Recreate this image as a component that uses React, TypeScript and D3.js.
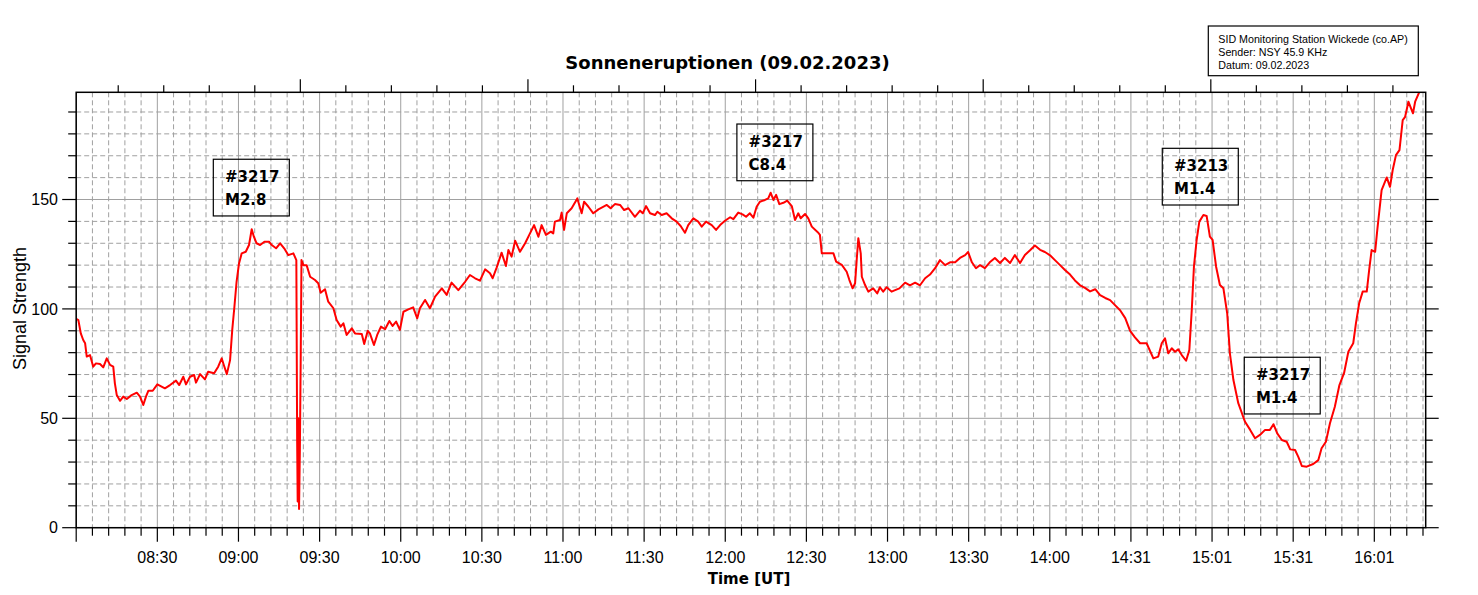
import * as d3 from "d3";

// SID recording 09.02.2023, time as minutes after 08:00 UT
const tMin = [
  0.0, 0.8, 1.7, 2.6, 3.3, 3.9, 5.1, 6.3, 7.3, 8.8, 10.0, 11.3, 12.5, 13.7, 14.3, 15.0, 16.2, 17.4, 18.7, 20.5,
  22.4, 23.6, 24.8, 25.8, 26.7, 28.3, 30.0, 32.8, 34.7, 36.9, 38.1, 39.6, 40.6, 42.1, 43.6, 44.3, 45.8, 47.6, 48.8, 51.0,
  52.5, 53.8, 54.7, 55.7, 56.9, 57.7, 58.5, 59.3, 60.2, 61.2, 62.7, 63.9, 64.9, 65.7, 66.7, 68.0, 69.6, 71.3, 72.3, 73.9,
  75.4, 76.9, 78.4, 80.3, 81.4, 81.7, 81.9, 82.1, 82.4, 82.7, 83.0, 83.3, 84.0, 85.2, 86.5, 88.3, 89.5, 90.4, 92.0, 93.2,
  95.1, 96.3, 97.8, 98.8, 100.0, 101.9, 103.1, 105.6, 106.5, 107.8, 108.6, 110.1, 111.3, 112.7, 114.2, 115.8, 117.0, 118.3, 119.7, 121.0,
  122.8, 124.6, 126.1, 127.1, 129.0, 130.8, 132.7, 135.2, 137.0, 138.8, 141.3, 143.8, 145.6, 147.5, 149.3, 151.2, 153.0, 154.0, 155.5, 157.3,
  158.9, 159.8, 161.0, 162.3, 164.1, 166.0, 167.8, 169.3, 170.9, 172.1, 173.7, 175.5, 176.4, 177.0, 178.9, 179.5, 180.4, 181.4, 183.2, 185.3,
  186.9, 187.8, 189.4, 191.2, 193.1, 196.2, 197.6, 199.2, 201.1, 202.6, 204.2, 206.6, 208.5, 209.5, 210.7, 212.2, 214.0, 214.9, 216.5, 218.3,
  220.2, 222.0, 223.5, 225.1, 226.3, 228.2, 230.0, 231.3, 232.9, 235.0, 236.6, 238.1, 239.9, 241.8, 243.0, 244.8, 246.4, 247.7, 249.1, 250.4,
  251.6, 252.8, 254.7, 255.9, 256.8, 257.8, 258.8, 260.0, 261.5, 262.9, 264.6, 265.8, 267.0, 267.9, 269.5, 270.7, 272.0, 274.4, 275.0, 275.7,
  276.9, 280.0, 281.0, 283.1, 284.9, 285.9, 287.1, 288.0, 288.6, 289.2, 290.1, 290.5, 291.7, 292.9, 294.7, 296.2, 297.2, 298.4, 299.7, 301.5,
  302.8, 304.4, 306.5, 308.3, 310.2, 312.0, 313.9, 315.7, 317.6, 319.4, 321.3, 323.1, 325.0, 326.8, 328.7, 329.8, 331.2, 332.7, 334.2, 336.0,
  337.8, 339.7, 341.6, 343.4, 345.3, 347.1, 349.0, 350.8, 352.7, 354.5, 356.4, 358.2, 360.1, 361.9, 363.8, 365.6, 367.5, 369.3, 371.2, 373.0,
  374.9, 376.8, 378.6, 380.5, 382.3, 384.2, 386.0, 387.9, 389.7, 391.5, 393.4, 395.8, 398.3, 400.1, 401.4, 402.6, 403.8, 405.1, 406.3, 407.5,
  408.8, 410.4, 411.6, 412.5, 413.3, 414.3, 415.3, 416.8, 418.0, 419.2, 420.2, 421.5, 422.9, 424.2, 425.6, 426.6, 427.9, 429.7, 432.2, 434.1,
  435.9, 437.7, 439.6, 441.4, 442.7, 444.1, 445.8, 447.6, 448.9, 450.7, 451.9, 453.2, 455.0, 457.4, 459.3, 460.5, 462.1, 463.6, 465.4, 467.1,
  468.8, 470.4, 472.2, 473.2, 474.4, 475.7, 477.2, 478.1, 479.0, 480.3, 481.1, 482.7, 484.6, 485.8, 486.8, 488.0, 489.3, 490.5, 491.4, 492.6,
  494.3, 495.1, 496.7,
];

const signal = [
  95.5, 94.9, 88.8, 85.8, 84.3, 78.2, 78.9, 73.6, 75.1, 74.8, 73.3, 77.4, 74.4, 73.6, 66, 60.6, 58, 59.9, 58.8, 60.6,
  61.7, 59.9, 56.1, 59.9, 62.6, 62.6, 65.5, 63.7, 65.2, 67.2, 65.2, 69, 65.5, 69, 69.8, 66.3, 70.2, 67.8, 71.3, 70.6,
  73.6, 77.4, 73.9, 70.2, 76.6, 90.4, 101, 112.4, 120.8, 125.4, 126.1, 129.2, 136.4, 133, 130, 129.2, 130.7, 130.7, 129.2, 127.7,
  130, 127.7, 124.6, 125.4, 122.3, 40, 12, 50, 8.5, 35, 75, 122.3, 120, 120, 114.7, 113.2, 111.7, 107.4, 109, 103.3,
  100.3, 94.9, 91.9, 93.4, 88.1, 91.1, 88.8, 88.5, 84, 90, 88.8, 83.5, 88.1, 91.9, 90.7, 94.5, 92.2, 94.2, 90.4, 98.7,
  99.8, 100.7, 95.7, 100.3, 104.1, 100.3, 105.6, 109.4, 106.4, 112, 108.6, 112.4, 115.5, 114, 112.9, 118.1, 116.3, 114, 119, 125.7,
  119.6, 126.9, 123.9, 131.2, 126.1, 130, 134.5, 138.3, 133, 138.3, 133.8, 135.3, 134.5, 139.9, 140.6, 144, 136.1, 143.7, 146, 150.5,
  143.7, 149, 146.7, 143.7, 145.5, 147.5, 146, 147.9, 147.5, 145.2, 146, 142.1, 144.9, 143.7, 147, 143.7, 142.9, 144.4, 142.9, 143.7,
  141.4, 139.9, 137.9, 134.8, 138.3, 141.4, 139.9, 137.6, 139.9, 138.3, 136.1, 138.3, 140.3, 141.9, 141, 144, 143.2, 142.1, 143.7, 141.7,
  146.7, 149, 149.8, 150.5, 153.1, 149.8, 152.1, 147.9, 148.5, 149.5, 147, 140.6, 143.7, 141.4, 143.4, 141.4, 137.6, 134.8, 133.8, 125.4,
  125.4, 125.4, 121.6, 120.1, 117, 113.2, 109.4, 111.7, 122.3, 132.3, 125.4, 114.7, 110.9, 107.9, 109.4, 107.1, 109.9, 107.9, 109.9, 107.9,
  108.6, 109.4, 112, 110.8, 112, 110.8, 114, 115.7, 118.6, 122.3, 120, 121.3, 121.3, 123.3, 124.6, 126, 121.3, 118.6, 120, 118.6,
  121.3, 123.3, 121, 123.3, 121, 124.6, 121, 124.6, 126.8, 129, 127, 126, 124.5, 122.3, 120, 117.8, 115.7, 113, 110.8, 109.6,
  108, 109, 106.3, 105, 104, 101.6, 99.4, 95.8, 90, 87, 84.3, 84.3, 77.4, 78.2, 84.3, 86.6, 79.7, 82, 80.4, 81.5,
  78.9, 76.3, 81.2, 99.5, 119.3, 131.5, 139.9, 142.9, 142.5, 133, 131.5, 119.3, 110.9, 109.4, 98, 79.7, 67.5, 56.9, 48.4, 44.7,
  40.9, 42.4, 44.7, 44.7, 47.3, 43.1, 40.1, 39.3, 35.8, 35.5, 32.4, 28.2, 27.9, 29.1, 30.9, 36.3, 39.3, 47.7, 55.3, 65.2,
  70.6, 80.4, 84.3, 93.4, 102.6, 107.9, 107.9, 117.8, 126.9, 126.1, 136.1, 154.3, 160.1, 155.8, 163.5, 170.3, 172.6, 186.3, 187.8, 194.7,
  189.4, 194.7, 199.3,
];

const xTickLabels = [
  "08:30", "09:00", "09:30", "10:00", "10:30", "11:00", "11:30", "12:00",
  "12:30", "13:00", "13:30", "14:00", "14:31", "15:01", "15:31", "16:01",
];
const yTickValues = [0, 50, 100, 150];

// flare labels, anchored at box top-left (minutes after 08:00, signal)
const flareIds = ["#3217", "#3217", "#3213", "#3217"];
const flareClasses = ["M2.8", "C8.4", "M1.4", "M1.4"];
const flareTime = [50.7, 244.3, 401.6, 431.9];
const flareLevel = [168.4, 184.5, 173.4, 77.9];

const infoLines = [
  "SID Monitoring Station Wickede (co.AP)",
  "Sender: NSY 45.9 KHz",
  "Datum: 09.02.2023",
];

const W = 1478;
const H = 595;
const left = 76.2;
const right = 1425.7;
const top = 92.3;
const bottom = 527.7;

const tickFont = "'Liberation Sans', Arial, sans-serif";
const boldFont = "'DejaVu Sans', Verdana, sans-serif";

export default function App() {
  const x = d3.scaleLinear().domain([0, 499]).range([left, right]);
  const y = d3.scaleLinear().domain([0, 199]).range([bottom, top]);
  // upper axis carries its own, unlabeled scale
  const xTop = d3.scaleLinear().domain([0.077, 29.72]).range([left, right]);

  const line = d3
    .line<number>()
    .x((_, i) => x(tMin[i]))
    .y((d) => y(d));

  const minorX = d3.range(0, 499, 6);
  const minorY = d3.range(0, 200, 10);
  const topTicks = d3.range(1, 30);

  const grid = "#a0a0a0";

  return (
    <svg
      width={W}
      height={H}
      style={{ position: "absolute", left: 0, top: 0, background: "#fff" }}
    >
      <defs>
        <clipPath id="plot">
          <rect x={left} y={top} width={right - left} height={bottom - top} />
        </clipPath>
      </defs>

      {/* grid */}
      {minorX.map((m) => (
        <line
          key={"gx" + m}
          x1={x(m)}
          x2={x(m)}
          y1={top}
          y2={bottom}
          stroke={grid}
          strokeWidth={1}
          strokeDasharray={m % 30 === 0 ? undefined : "5,3"}
        />
      ))}
      {minorY.map((v) => (
        <line
          key={"gy" + v}
          x1={left}
          x2={right}
          y1={y(v)}
          y2={y(v)}
          stroke={grid}
          strokeWidth={1}
          strokeDasharray={v % 50 === 0 ? undefined : "5,3"}
        />
      ))}

      {/* signal */}
      <path
        d={line(signal) as string}
        fill="none"
        stroke="#ff0000"
        strokeWidth={2}
        strokeLinejoin="round"
        clipPath="url(#plot)"
      />

      {/* frame */}
      <rect
        x={left}
        y={top}
        width={right - left}
        height={bottom - top}
        fill="none"
        stroke="#000"
        strokeWidth={1.5}
      />

      {/* bottom axis */}
      {minorX.map((m) => (
        <line
          key={"bx" + m}
          x1={x(m)}
          x2={x(m)}
          y1={bottom}
          y2={bottom + (m % 30 === 0 ? 14 : 8)}
          stroke="#000"
          strokeWidth={1.2}
        />
      ))}
      {xTickLabels.map((lab, i) => (
        <text
          key={"bl" + i}
          x={x((i + 1) * 30)}
          y={562.5}
          textAnchor="middle"
          fontFamily={tickFont}
          fontSize={16}
        >
          {lab}
        </text>
      ))}

      {/* top axis */}
      {topTicks.map((t) => (
        <line
          key={"tx" + t}
          x1={xTop(t)}
          x2={xTop(t)}
          y1={top}
          y2={top - (t % 5 === 0 ? 13 : 7)}
          stroke="#000"
          strokeWidth={1.2}
        />
      ))}

      {/* left and right axes */}
      {minorY.map((v) => (
        <g key={"yt" + v}>
          <line
            x1={left - (v % 50 === 0 ? 14 : 8)}
            x2={left}
            y1={y(v)}
            y2={y(v)}
            stroke="#000"
            strokeWidth={1.2}
          />
          <line
            x1={right}
            x2={right + (v % 50 === 0 ? 13 : 7)}
            y1={y(v)}
            y2={y(v)}
            stroke="#000"
            strokeWidth={1.2}
          />
        </g>
      ))}
      {yTickValues.map((v) => (
        <text
          key={"yl" + v}
          x={58}
          y={y(v)}
          dy="0.36em"
          textAnchor="end"
          fontFamily={tickFont}
          fontSize={16}
        >
          {v}
        </text>
      ))}

      {/* titles */}
      <text
        x={727.5}
        y={69}
        textAnchor="middle"
        fontFamily={boldFont}
        fontWeight="bold"
        fontSize={18}
      >
        Sonneneruptionen (09.02.2023)
      </text>
      <text
        x={749}
        y={584}
        textAnchor="middle"
        fontFamily={boldFont}
        fontWeight="bold"
        fontSize={15}
      >
        Time [UT]
      </text>
      <text
        transform="translate(26,308.5) rotate(-90)"
        textAnchor="middle"
        fontFamily={tickFont}
        fontSize={18}
      >
        Signal Strength
      </text>

      {/* flare annotations */}
      {flareIds.map((id, i) => {
        const bx = x(flareTime[i]);
        const by = y(flareLevel[i]);
        return (
          <g key={"fl" + i} transform={`translate(${bx},${by})`}>
            <rect width={76} height={56.7} fill="none" stroke="#000" strokeWidth={1.2} />
            <text x={11.7} y={23} fontFamily={boldFont} fontWeight="bold" fontSize={15}>
              {id}
            </text>
            <text x={11.7} y={45.7} fontFamily={boldFont} fontWeight="bold" fontSize={15}>
              {flareClasses[i]}
            </text>
          </g>
        );
      })}

      {/* station info */}
      <rect x={1208.3} y={26} width={210} height={49.7} fill="#fff" stroke="#000" strokeWidth={1.2} />
      {infoLines.map((s, i) => (
        <text
          key={"in" + i}
          x={1218.3}
          y={43.3 + i * 12.7}
          fontFamily={tickFont}
          fontSize={10.7}
        >
          {s}
        </text>
      ))}
    </svg>
  );
}
